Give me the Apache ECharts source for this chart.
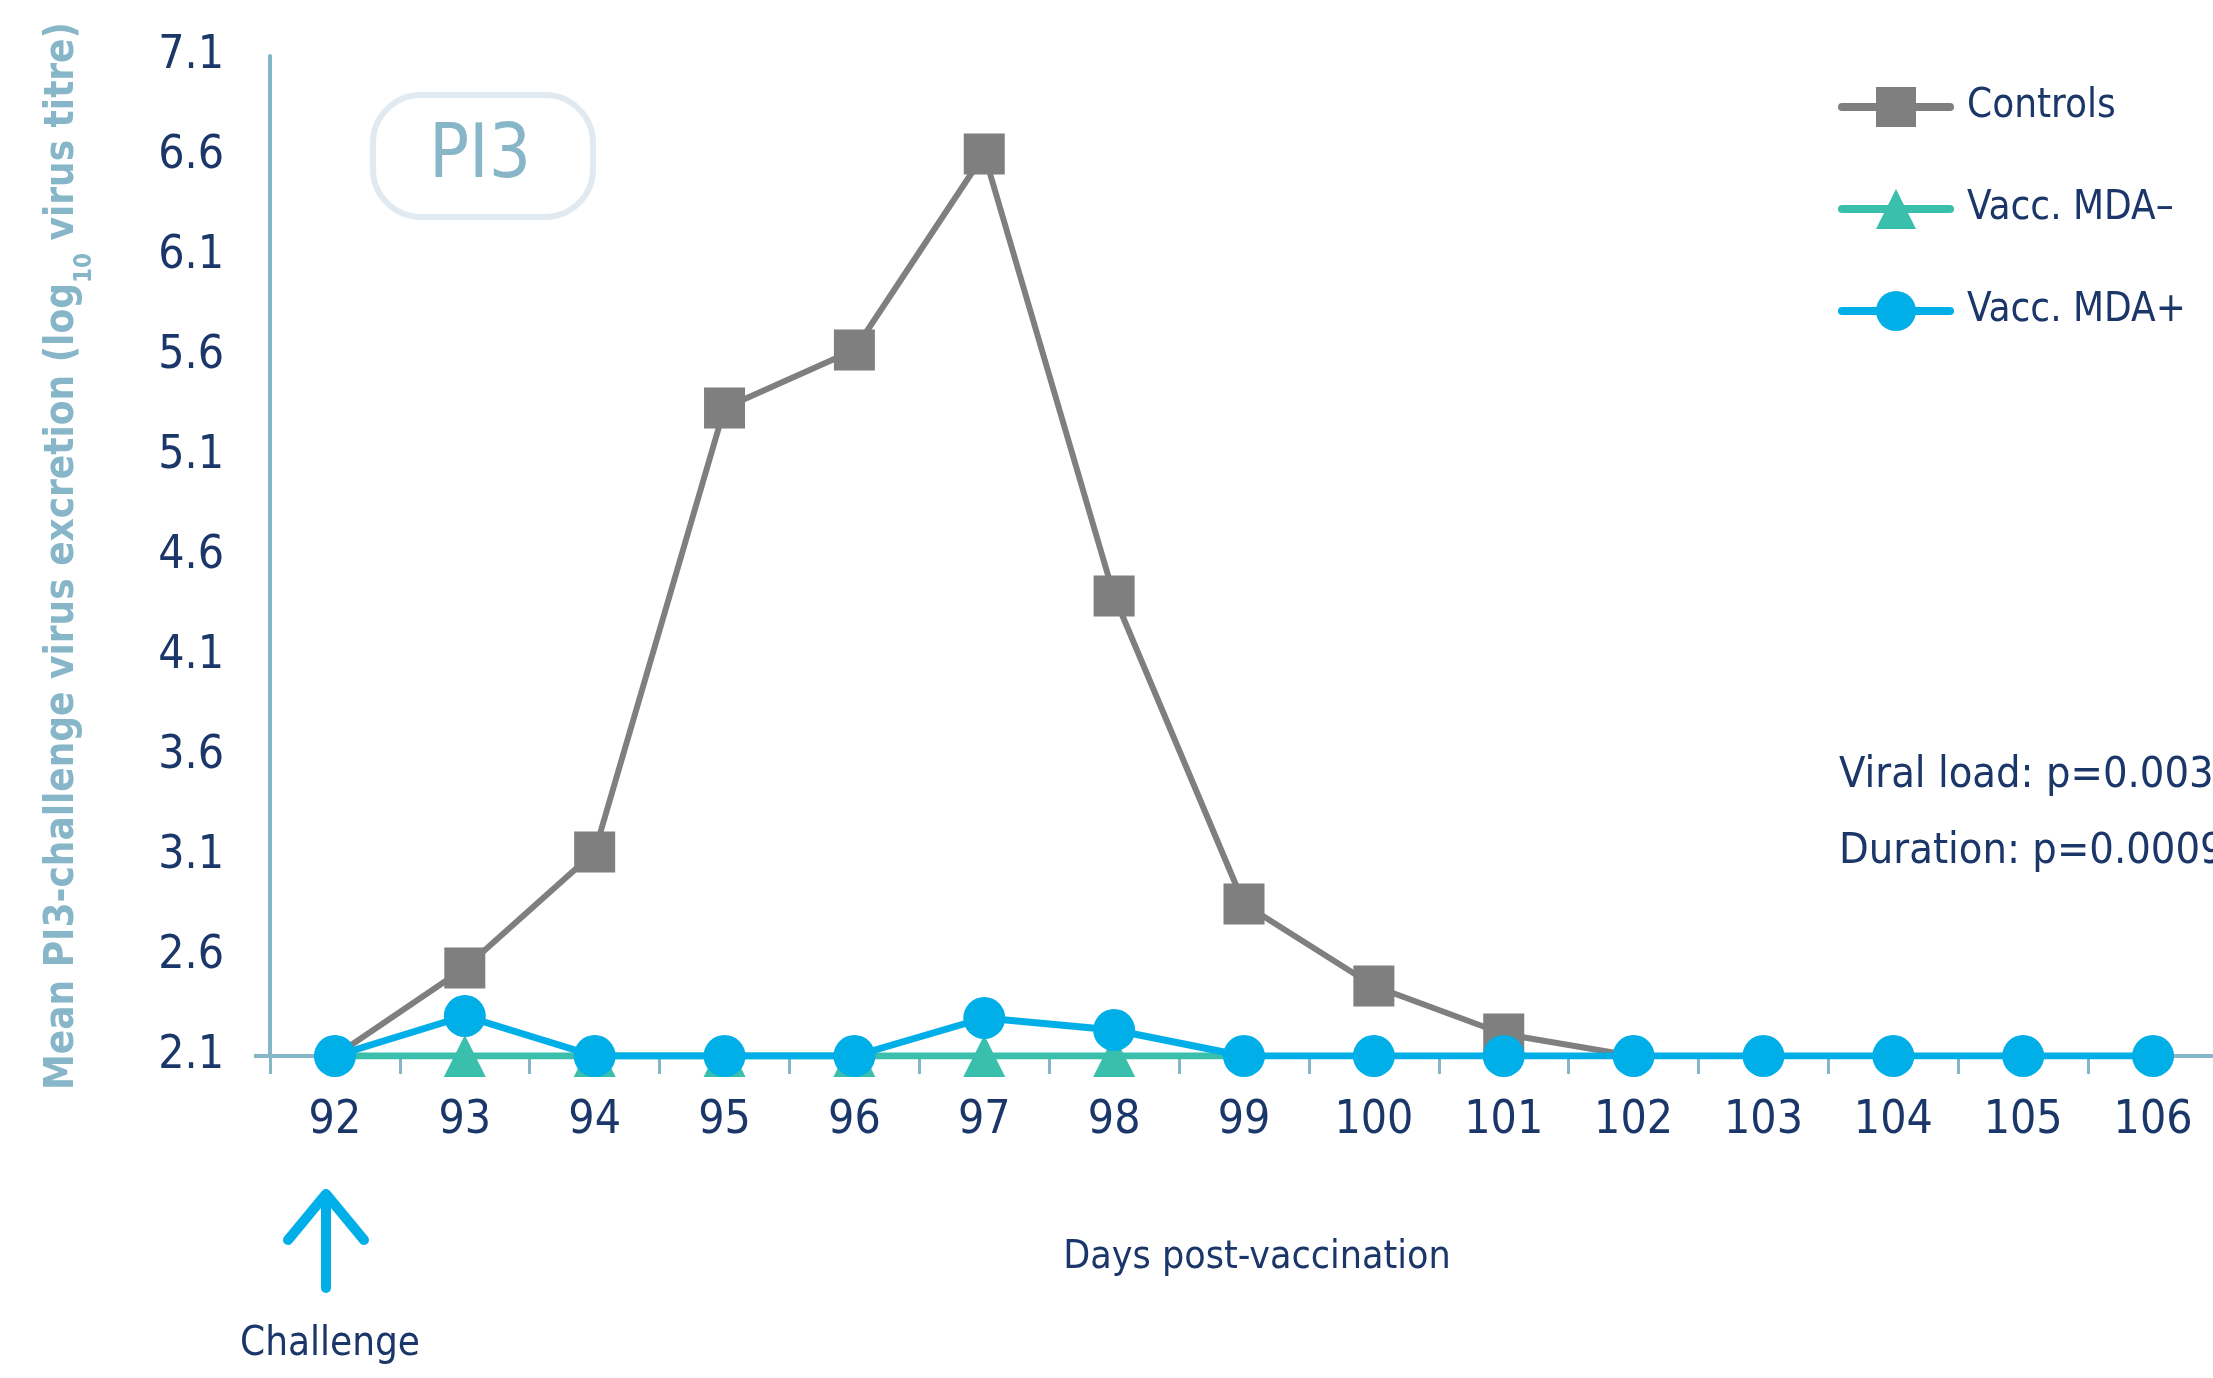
<!DOCTYPE html>
<html>
<head>
<meta charset="utf-8">
<script src="https://cdn.jsdelivr.net/npm/echarts@6/dist/echarts.min.js"></script>
<style>html,body{margin:0;padding:0;background:#fff;}#c{width:2213px;height:1378px;}</style>
</head>
<body>
<div id="c"></div>
<script>
var days = ['92','93','94','95','96','97','98','99','100','101','102','103','104','105','106'];
var yTicks = [2.1, 2.6, 3.1, 3.6, 4.1, 4.6, 5.1, 5.6, 6.1, 6.6, 7.1];
var controls = [2.1, 2.54, 3.12, 5.34, 5.63, 6.61, 4.40, 2.86, 2.45, 2.21, 2.1];
var vaccMDAneg = [2.1, 2.1, 2.1, 2.1, 2.1, 2.1, 2.1, 2.1];
var vaccMDApos = [2.1, 2.30, 2.1, 2.1, 2.1, 2.29, 2.23, 2.1, 2.1, 2.1, 2.1, 2.1, 2.1, 2.1, 2.1];

var FONT = "'Liberation Sans Narrow','DejaVu Sans Condensed','Arial Narrow',sans-serif";
var NAVY = '#1b3668';
var AXIS = '#86b6c8';

function hideEnds(arr) {
  return arr.map(function (v, i) {
    return (i === 0 || i === arr.length - 1) ? { value: v, symbol: 'none' } : v;
  });
}

var chart = echarts.init(document.getElementById('c'));
chart.setOption({
  animation: false,
  backgroundColor: '#fff',
  grid: { left: 270, right: -5, top: 56, bottom: 322, containLabel: false, outerBoundsMode: 'none' },
  xAxis: {
    type: 'category',
    data: days,
    boundaryGap: true,
    name: 'Days post-vaccination',
    nameLocation: 'middle',
    nameGap: 182,
    nameTextStyle: { color: NAVY, fontFamily: FONT, fontSize: 39, padding: [0, 0, 0, 26] },
    axisLine: { lineStyle: { color: AXIS, width: 4 } },
    axisTick: { show: true, interval: 0, length: 18, lineStyle: { color: AXIS, width: 3 } },
    axisLabel: { interval: 0, margin: 42, color: NAVY, fontFamily: FONT, fontSize: 46 },
    splitLine: { show: false }
  },
  yAxis: {
    type: 'value',
    min: 2.1,
    max: 7.1,
    name: '{a|Mean PI3-challenge virus excretion (log}{b|10}{a| virus titre)}',
    nameLocation: 'middle',
    nameRotate: 90,
    nameGap: 183,
    nameTextStyle: {
      color: AXIS, fontFamily: FONT, fontWeight: 'bold',
      rich: {
        a: { color: AXIS, fontFamily: FONT, fontWeight: 'bold', fontSize: 40, lineHeight: 48 },
        b: { color: AXIS, fontFamily: FONT, fontWeight: 'bold', fontSize: 24, lineHeight: 48, verticalAlign: 'bottom', padding: [0, 0, -10, 0] }
      }
    },
    axisLine: { show: true, lineStyle: { color: AXIS, width: 4 } },
    axisTick: { show: true, customValues: [2.1], length: 16, lineStyle: { color: AXIS, width: 4 } },
    axisLabel: { customValues: yTicks, margin: 46, color: NAVY, fontFamily: FONT, fontSize: 46,
      formatter: function (v) { return v.toFixed(1); } },
    splitLine: { show: false }
  },
  legend: {
    orient: 'vertical',
    left: 1833,
    top: 82,
    itemWidth: 108,
    itemHeight: 50,
    itemGap: 62,
    textStyle: { color: NAVY, fontFamily: FONT, fontSize: 40, padding: [0, 0, 0, 12] },
    lineStyle: { width: 8, cap: 'round' },
    data: ['Controls', 'Vacc. MDA\u2013', 'Vacc. MDA+']
  },
  series: [
    {
      name: 'Controls', type: 'line', data: hideEnds(controls),
      symbol: 'rect', symbolSize: 41,
      lineStyle: { color: '#7f7f7f', width: 6 },
      itemStyle: { color: '#7f7f7f' },
      z: 2
    },
    {
      name: 'Vacc. MDA\u2013', type: 'line', data: hideEnds(vaccMDAneg),
      symbol: 'triangle', symbolSize: 42,
      lineStyle: { color: '#3bbfad', width: 7 },
      itemStyle: { color: '#3bbfad' },
      z: 3
    },
    {
      name: 'Vacc. MDA+', type: 'line', data: vaccMDApos,
      symbol: 'circle', symbolSize: 42,
      lineStyle: { color: '#00aee8', width: 7 },
      itemStyle: { color: '#00aee8' },
      z: 4
    }
  ],
  graphic: [
    {
      type: 'rect', left: 370, top: 92,
      shape: { width: 220, height: 122, r: 48 },
      style: { fill: 'none', stroke: '#e1eaf0', lineWidth: 6 }
    },
    {
      type: 'text', x: 480, y: 158,
      style: { text: 'PI3', fill: AXIS, font: '74px ' + FONT, align: 'center', verticalAlign: 'middle' }
    },
    {
      type: 'text', x: 1839, y: 776,
      style: { text: 'Viral load: p=0.003', fill: NAVY, font: '43px ' + FONT, align: 'left', verticalAlign: 'middle' }
    },
    {
      type: 'text', x: 1839, y: 852,
      style: { text: 'Duration: p=0.0009', fill: NAVY, font: '43px ' + FONT, align: 'left', verticalAlign: 'middle' }
    },
    {
      type: 'polyline',
      shape: { points: [[326, 1288], [326, 1196]] },
      style: { stroke: '#00aee8', lineWidth: 10, lineCap: 'round', fill: 'none' }
    },
    {
      type: 'polyline',
      shape: { points: [[288, 1240], [326, 1194], [364, 1240]] },
      style: { stroke: '#00aee8', lineWidth: 10, lineCap: 'round', lineJoin: 'round', fill: 'none' }
    },
    {
      type: 'text', x: 330, y: 1345,
      style: { text: 'Challenge', fill: NAVY, font: '40px ' + FONT, align: 'center', verticalAlign: 'middle' }
    }
  ]
});
</script>
</body>
</html>
